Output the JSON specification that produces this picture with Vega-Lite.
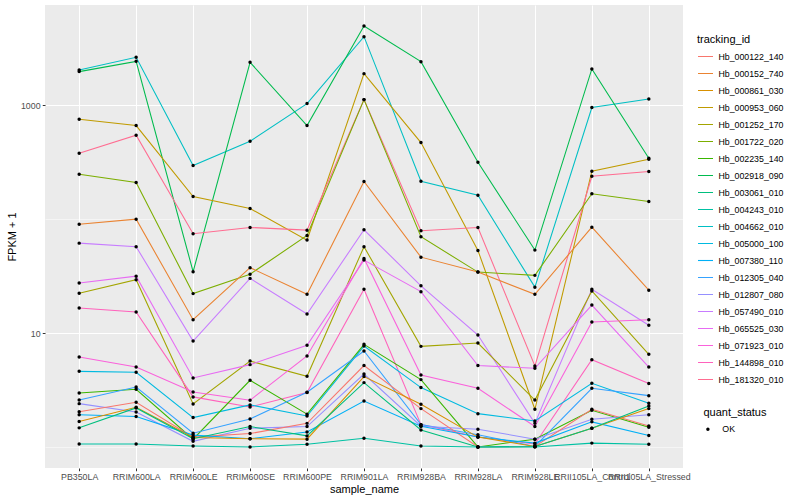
{
  "$schema": "https://vega.github.io/schema/vega-lite/v6.json",
  "width": 638,
  "height": 463,
  "autosize": {"type": "none"},
  "padding": {"left": 45, "top": 5, "right": 117, "bottom": 32},
  "background": "white",
  "config": {
    "font": "Liberation Sans",
    "view": {"fill": "#EBEBEB", "stroke": null},
    "axis": {
      "domain": false,
      "gridColor": "white",
      "gridWidth": 1.07,
      "tickColor": "#333333",
      "tickSize": 2.75,
      "tickWidth": 1,
      "labelFont": "Liberation Sans",
      "labelFontSize": 8.8,
      "labelColor": "#4D4D4D",
      "labelPadding": 2.2,
      "titleFont": "Liberation Sans",
      "titleFontSize": 11,
      "titleFontWeight": "normal",
      "titleColor": "black"
    },
    "legend": {
      "titleFont": "Liberation Sans",
      "titleFontSize": 11,
      "titleFontWeight": "normal",
      "titleColor": "black",
      "labelFont": "Liberation Sans",
      "labelFontSize": 8.8,
      "labelColor": "black",
      "padding": 0
    }
  },
  "data": {"values": [
    {"tracking_id":"Hb_004662_010","sample_name":"PB350LA","FPKM":2046,"quant_status":"OK"},
    {"tracking_id":"Hb_004662_010","sample_name":"RRIM600LA","FPKM":2637,"quant_status":"OK"},
    {"tracking_id":"Hb_004662_010","sample_name":"RRIM600LE","FPKM":296,"quant_status":"OK"},
    {"tracking_id":"Hb_004662_010","sample_name":"RRIM600SE","FPKM":483,"quant_status":"OK"},
    {"tracking_id":"Hb_004662_010","sample_name":"RRIM600PE","FPKM":1035,"quant_status":"OK"},
    {"tracking_id":"Hb_004662_010","sample_name":"RRIM901LA","FPKM":4006,"quant_status":"OK"},
    {"tracking_id":"Hb_004662_010","sample_name":"RRIM928BA","FPKM":215,"quant_status":"OK"},
    {"tracking_id":"Hb_004662_010","sample_name":"RRIM928LA","FPKM":162,"quant_status":"OK"},
    {"tracking_id":"Hb_004662_010","sample_name":"RRIM928LE","FPKM":25.3,"quant_status":"OK"},
    {"tracking_id":"Hb_004662_010","sample_name":"RRII105LA_Control","FPKM":955,"quant_status":"OK"},
    {"tracking_id":"Hb_004662_010","sample_name":"RRII105LA_Stressed","FPKM":1138,"quant_status":"OK"},

    {"tracking_id":"Hb_002918_090","sample_name":"PB350LA","FPKM":1976,"quant_status":"OK"},
    {"tracking_id":"Hb_002918_090","sample_name":"RRIM600LA","FPKM":2432,"quant_status":"OK"},
    {"tracking_id":"Hb_002918_090","sample_name":"RRIM600LE","FPKM":34.6,"quant_status":"OK"},
    {"tracking_id":"Hb_002918_090","sample_name":"RRIM600SE","FPKM":2384,"quant_status":"OK"},
    {"tracking_id":"Hb_002918_090","sample_name":"RRIM600PE","FPKM":664,"quant_status":"OK"},
    {"tracking_id":"Hb_002918_090","sample_name":"RRIM901LA","FPKM":4970,"quant_status":"OK"},
    {"tracking_id":"Hb_002918_090","sample_name":"RRIM928BA","FPKM":2417,"quant_status":"OK"},
    {"tracking_id":"Hb_002918_090","sample_name":"RRIM928LA","FPKM":316,"quant_status":"OK"},
    {"tracking_id":"Hb_002918_090","sample_name":"RRIM928LE","FPKM":53.5,"quant_status":"OK"},
    {"tracking_id":"Hb_002918_090","sample_name":"RRII105LA_Control","FPKM":2086,"quant_status":"OK"},
    {"tracking_id":"Hb_002918_090","sample_name":"RRII105LA_Stressed","FPKM":343,"quant_status":"OK"},

    {"tracking_id":"Hb_000953_060","sample_name":"PB350LA","FPKM":754,"quant_status":"OK"},
    {"tracking_id":"Hb_000953_060","sample_name":"RRIM600LA","FPKM":664,"quant_status":"OK"},
    {"tracking_id":"Hb_000953_060","sample_name":"RRIM600LE","FPKM":158,"quant_status":"OK"},
    {"tracking_id":"Hb_000953_060","sample_name":"RRIM600SE","FPKM":124,"quant_status":"OK"},
    {"tracking_id":"Hb_000953_060","sample_name":"RRIM600PE","FPKM":65.5,"quant_status":"OK"},
    {"tracking_id":"Hb_000953_060","sample_name":"RRIM901LA","FPKM":1897,"quant_status":"OK"},
    {"tracking_id":"Hb_000953_060","sample_name":"RRIM928BA","FPKM":471,"quant_status":"OK"},
    {"tracking_id":"Hb_000953_060","sample_name":"RRIM928LA","FPKM":53.1,"quant_status":"OK"},
    {"tracking_id":"Hb_000953_060","sample_name":"RRIM928LE","FPKM":2.14,"quant_status":"OK"},
    {"tracking_id":"Hb_000953_060","sample_name":"RRII105LA_Control","FPKM":264,"quant_status":"OK"},
    {"tracking_id":"Hb_000953_060","sample_name":"RRII105LA_Stressed","FPKM":336,"quant_status":"OK"},

    {"tracking_id":"Hb_181320_010","sample_name":"PB350LA","FPKM":379,"quant_status":"OK"},
    {"tracking_id":"Hb_181320_010","sample_name":"RRIM600LA","FPKM":546,"quant_status":"OK"},
    {"tracking_id":"Hb_181320_010","sample_name":"RRIM600LE","FPKM":74.5,"quant_status":"OK"},
    {"tracking_id":"Hb_181320_010","sample_name":"RRIM600SE","FPKM":84.6,"quant_status":"OK"},
    {"tracking_id":"Hb_181320_010","sample_name":"RRIM600PE","FPKM":80.1,"quant_status":"OK"},
    {"tracking_id":"Hb_181320_010","sample_name":"RRIM901LA","FPKM":1122,"quant_status":"OK"},
    {"tracking_id":"Hb_181320_010","sample_name":"RRIM928BA","FPKM":79.1,"quant_status":"OK"},
    {"tracking_id":"Hb_181320_010","sample_name":"RRIM928LA","FPKM":84.6,"quant_status":"OK"},
    {"tracking_id":"Hb_181320_010","sample_name":"RRIM928LE","FPKM":5.14,"quant_status":"OK"},
    {"tracking_id":"Hb_181320_010","sample_name":"RRII105LA_Control","FPKM":238,"quant_status":"OK"},
    {"tracking_id":"Hb_181320_010","sample_name":"RRII105LA_Stressed","FPKM":262,"quant_status":"OK"},

    {"tracking_id":"Hb_001722_020","sample_name":"PB350LA","FPKM":248,"quant_status":"OK"},
    {"tracking_id":"Hb_001722_020","sample_name":"RRIM600LA","FPKM":210,"quant_status":"OK"},
    {"tracking_id":"Hb_001722_020","sample_name":"RRIM600LE","FPKM":22.2,"quant_status":"OK"},
    {"tracking_id":"Hb_001722_020","sample_name":"RRIM600SE","FPKM":32.9,"quant_status":"OK"},
    {"tracking_id":"Hb_001722_020","sample_name":"RRIM600PE","FPKM":71.9,"quant_status":"OK"},
    {"tracking_id":"Hb_001722_020","sample_name":"RRIM901LA","FPKM":1122,"quant_status":"OK"},
    {"tracking_id":"Hb_001722_020","sample_name":"RRIM928BA","FPKM":70.1,"quant_status":"OK"},
    {"tracking_id":"Hb_001722_020","sample_name":"RRIM928LA","FPKM":34.3,"quant_status":"OK"},
    {"tracking_id":"Hb_001722_020","sample_name":"RRIM928LE","FPKM":32.1,"quant_status":"OK"},
    {"tracking_id":"Hb_001722_020","sample_name":"RRII105LA_Control","FPKM":167,"quant_status":"OK"},
    {"tracking_id":"Hb_001722_020","sample_name":"RRII105LA_Stressed","FPKM":143,"quant_status":"OK"},

    {"tracking_id":"Hb_000152_740","sample_name":"PB350LA","FPKM":90.4,"quant_status":"OK"},
    {"tracking_id":"Hb_000152_740","sample_name":"RRIM600LA","FPKM":100,"quant_status":"OK"},
    {"tracking_id":"Hb_000152_740","sample_name":"RRIM600LE","FPKM":13.1,"quant_status":"OK"},
    {"tracking_id":"Hb_000152_740","sample_name":"RRIM600SE","FPKM":37.5,"quant_status":"OK"},
    {"tracking_id":"Hb_000152_740","sample_name":"RRIM600PE","FPKM":21.9,"quant_status":"OK"},
    {"tracking_id":"Hb_000152_740","sample_name":"RRIM901LA","FPKM":214,"quant_status":"OK"},
    {"tracking_id":"Hb_000152_740","sample_name":"RRIM928BA","FPKM":46.4,"quant_status":"OK"},
    {"tracking_id":"Hb_000152_740","sample_name":"RRIM928LA","FPKM":34.3,"quant_status":"OK"},
    {"tracking_id":"Hb_000152_740","sample_name":"RRIM928LE","FPKM":21.9,"quant_status":"OK"},
    {"tracking_id":"Hb_000152_740","sample_name":"RRII105LA_Control","FPKM":85.1,"quant_status":"OK"},
    {"tracking_id":"Hb_000152_740","sample_name":"RRII105LA_Stressed","FPKM":23.8,"quant_status":"OK"},

    {"tracking_id":"Hb_057490_010","sample_name":"PB350LA","FPKM":61.6,"quant_status":"OK"},
    {"tracking_id":"Hb_057490_010","sample_name":"RRIM600LA","FPKM":57.3,"quant_status":"OK"},
    {"tracking_id":"Hb_057490_010","sample_name":"RRIM600LE","FPKM":8.51,"quant_status":"OK"},
    {"tracking_id":"Hb_057490_010","sample_name":"RRIM600SE","FPKM":30.2,"quant_status":"OK"},
    {"tracking_id":"Hb_057490_010","sample_name":"RRIM600PE","FPKM":14.7,"quant_status":"OK"},
    {"tracking_id":"Hb_057490_010","sample_name":"RRIM901LA","FPKM":80.7,"quant_status":"OK"},
    {"tracking_id":"Hb_057490_010","sample_name":"RRIM928BA","FPKM":26.0,"quant_status":"OK"},
    {"tracking_id":"Hb_057490_010","sample_name":"RRIM928LA","FPKM":9.6,"quant_status":"OK"},
    {"tracking_id":"Hb_057490_010","sample_name":"RRIM928LE","FPKM":1.61,"quant_status":"OK"},
    {"tracking_id":"Hb_057490_010","sample_name":"RRII105LA_Control","FPKM":24.2,"quant_status":"OK"},
    {"tracking_id":"Hb_057490_010","sample_name":"RRII105LA_Stressed","FPKM":11.7,"quant_status":"OK"},

    {"tracking_id":"Hb_001252_170","sample_name":"PB350LA","FPKM":22.4,"quant_status":"OK"},
    {"tracking_id":"Hb_001252_170","sample_name":"RRIM600LA","FPKM":29.4,"quant_status":"OK"},
    {"tracking_id":"Hb_001252_170","sample_name":"RRIM600LE","FPKM":2.38,"quant_status":"OK"},
    {"tracking_id":"Hb_001252_170","sample_name":"RRIM600SE","FPKM":5.68,"quant_status":"OK"},
    {"tracking_id":"Hb_001252_170","sample_name":"RRIM600PE","FPKM":4.17,"quant_status":"OK"},
    {"tracking_id":"Hb_001252_170","sample_name":"RRIM901LA","FPKM":57.3,"quant_status":"OK"},
    {"tracking_id":"Hb_001252_170","sample_name":"RRIM928BA","FPKM":7.64,"quant_status":"OK"},
    {"tracking_id":"Hb_001252_170","sample_name":"RRIM928LA","FPKM":8.17,"quant_status":"OK"},
    {"tracking_id":"Hb_001252_170","sample_name":"RRIM928LE","FPKM":2.58,"quant_status":"OK"},
    {"tracking_id":"Hb_001252_170","sample_name":"RRII105LA_Control","FPKM":23.4,"quant_status":"OK"},
    {"tracking_id":"Hb_001252_170","sample_name":"RRII105LA_Stressed","FPKM":6.5,"quant_status":"OK"},

    {"tracking_id":"Hb_065525_030","sample_name":"PB350LA","FPKM":27.5,"quant_status":"OK"},
    {"tracking_id":"Hb_065525_030","sample_name":"RRIM600LA","FPKM":31.6,"quant_status":"OK"},
    {"tracking_id":"Hb_065525_030","sample_name":"RRIM600LE","FPKM":4.03,"quant_status":"OK"},
    {"tracking_id":"Hb_065525_030","sample_name":"RRIM600SE","FPKM":5.28,"quant_status":"OK"},
    {"tracking_id":"Hb_065525_030","sample_name":"RRIM600PE","FPKM":7.8,"quant_status":"OK"},
    {"tracking_id":"Hb_065525_030","sample_name":"RRIM901LA","FPKM":43.7,"quant_status":"OK"},
    {"tracking_id":"Hb_065525_030","sample_name":"RRIM928BA","FPKM":23.1,"quant_status":"OK"},
    {"tracking_id":"Hb_065525_030","sample_name":"RRIM928LA","FPKM":5.18,"quant_status":"OK"},
    {"tracking_id":"Hb_065525_030","sample_name":"RRIM928LE","FPKM":4.9,"quant_status":"OK"},
    {"tracking_id":"Hb_065525_030","sample_name":"RRII105LA_Control","FPKM":17.6,"quant_status":"OK"},
    {"tracking_id":"Hb_065525_030","sample_name":"RRII105LA_Stressed","FPKM":5.03,"quant_status":"OK"},

    {"tracking_id":"Hb_144898_010","sample_name":"PB350LA","FPKM":16.6,"quant_status":"OK"},
    {"tracking_id":"Hb_144898_010","sample_name":"RRIM600LA","FPKM":15.3,"quant_status":"OK"},
    {"tracking_id":"Hb_144898_010","sample_name":"RRIM600LE","FPKM":2.75,"quant_status":"OK"},
    {"tracking_id":"Hb_144898_010","sample_name":"RRIM600SE","FPKM":2.24,"quant_status":"OK"},
    {"tracking_id":"Hb_144898_010","sample_name":"RRIM600PE","FPKM":3.0,"quant_status":"OK"},
    {"tracking_id":"Hb_144898_010","sample_name":"RRIM901LA","FPKM":24.2,"quant_status":"OK"},
    {"tracking_id":"Hb_144898_010","sample_name":"RRIM928BA","FPKM":1.57,"quant_status":"OK"},
    {"tracking_id":"Hb_144898_010","sample_name":"RRIM928LA","FPKM":1.22,"quant_status":"OK"},
    {"tracking_id":"Hb_144898_010","sample_name":"RRIM928LE","FPKM":1.06,"quant_status":"OK"},
    {"tracking_id":"Hb_144898_010","sample_name":"RRII105LA_Control","FPKM":5.84,"quant_status":"OK"},
    {"tracking_id":"Hb_144898_010","sample_name":"RRII105LA_Stressed","FPKM":3.6,"quant_status":"OK"},

    {"tracking_id":"Hb_071923_010","sample_name":"PB350LA","FPKM":6.16,"quant_status":"OK"},
    {"tracking_id":"Hb_071923_010","sample_name":"RRIM600LA","FPKM":5.03,"quant_status":"OK"},
    {"tracking_id":"Hb_071923_010","sample_name":"RRIM600LE","FPKM":3.04,"quant_status":"OK"},
    {"tracking_id":"Hb_071923_010","sample_name":"RRIM600SE","FPKM":2.57,"quant_status":"OK"},
    {"tracking_id":"Hb_071923_010","sample_name":"RRIM600PE","FPKM":6.29,"quant_status":"OK"},
    {"tracking_id":"Hb_071923_010","sample_name":"RRIM901LA","FPKM":45.2,"quant_status":"OK"},
    {"tracking_id":"Hb_071923_010","sample_name":"RRIM928BA","FPKM":4.28,"quant_status":"OK"},
    {"tracking_id":"Hb_071923_010","sample_name":"RRIM928LA","FPKM":3.27,"quant_status":"OK"},
    {"tracking_id":"Hb_071923_010","sample_name":"RRIM928LE","FPKM":1.51,"quant_status":"OK"},
    {"tracking_id":"Hb_071923_010","sample_name":"RRII105LA_Control","FPKM":12.5,"quant_status":"OK"},
    {"tracking_id":"Hb_071923_010","sample_name":"RRII105LA_Stressed","FPKM":13.1,"quant_status":"OK"},

    {"tracking_id":"Hb_005000_100","sample_name":"PB350LA","FPKM":4.61,"quant_status":"OK"},
    {"tracking_id":"Hb_005000_100","sample_name":"RRIM600LA","FPKM":4.52,"quant_status":"OK"},
    {"tracking_id":"Hb_005000_100","sample_name":"RRIM600LE","FPKM":1.81,"quant_status":"OK"},
    {"tracking_id":"Hb_005000_100","sample_name":"RRIM600SE","FPKM":2.34,"quant_status":"OK"},
    {"tracking_id":"Hb_005000_100","sample_name":"RRIM600PE","FPKM":1.87,"quant_status":"OK"},
    {"tracking_id":"Hb_005000_100","sample_name":"RRIM901LA","FPKM":7.69,"quant_status":"OK"},
    {"tracking_id":"Hb_005000_100","sample_name":"RRIM928BA","FPKM":3.32,"quant_status":"OK"},
    {"tracking_id":"Hb_005000_100","sample_name":"RRIM928LA","FPKM":1.96,"quant_status":"OK"},
    {"tracking_id":"Hb_005000_100","sample_name":"RRIM928LE","FPKM":1.69,"quant_status":"OK"},
    {"tracking_id":"Hb_005000_100","sample_name":"RRII105LA_Control","FPKM":3.62,"quant_status":"OK"},
    {"tracking_id":"Hb_005000_100","sample_name":"RRII105LA_Stressed","FPKM":2.42,"quant_status":"OK"},

    {"tracking_id":"Hb_002235_140","sample_name":"PB350LA","FPKM":2.98,"quant_status":"OK"},
    {"tracking_id":"Hb_002235_140","sample_name":"RRIM600LA","FPKM":3.21,"quant_status":"OK"},
    {"tracking_id":"Hb_002235_140","sample_name":"RRIM600LE","FPKM":1.17,"quant_status":"OK"},
    {"tracking_id":"Hb_002235_140","sample_name":"RRIM600SE","FPKM":3.85,"quant_status":"OK"},
    {"tracking_id":"Hb_002235_140","sample_name":"RRIM600PE","FPKM":1.94,"quant_status":"OK"},
    {"tracking_id":"Hb_002235_140","sample_name":"RRIM901LA","FPKM":7.96,"quant_status":"OK"},
    {"tracking_id":"Hb_002235_140","sample_name":"RRIM928BA","FPKM":3.9,"quant_status":"OK"},
    {"tracking_id":"Hb_002235_140","sample_name":"RRIM928LA","FPKM":1.0,"quant_status":"OK"},
    {"tracking_id":"Hb_002235_140","sample_name":"RRIM928LE","FPKM":1.17,"quant_status":"OK"},
    {"tracking_id":"Hb_002235_140","sample_name":"RRII105LA_Control","FPKM":2.1,"quant_status":"OK"},
    {"tracking_id":"Hb_002235_140","sample_name":"RRII105LA_Stressed","FPKM":1.49,"quant_status":"OK"},

    {"tracking_id":"Hb_012305_040","sample_name":"PB350LA","FPKM":2.58,"quant_status":"OK"},
    {"tracking_id":"Hb_012305_040","sample_name":"RRIM600LA","FPKM":3.36,"quant_status":"OK"},
    {"tracking_id":"Hb_012305_040","sample_name":"RRIM600LE","FPKM":1.32,"quant_status":"OK"},
    {"tracking_id":"Hb_012305_040","sample_name":"RRIM600SE","FPKM":1.76,"quant_status":"OK"},
    {"tracking_id":"Hb_012305_040","sample_name":"RRIM600PE","FPKM":3.02,"quant_status":"OK"},
    {"tracking_id":"Hb_012305_040","sample_name":"RRIM901LA","FPKM":6.95,"quant_status":"OK"},
    {"tracking_id":"Hb_012305_040","sample_name":"RRIM928BA","FPKM":1.57,"quant_status":"OK"},
    {"tracking_id":"Hb_012305_040","sample_name":"RRIM928LA","FPKM":1.28,"quant_status":"OK"},
    {"tracking_id":"Hb_012305_040","sample_name":"RRIM928LE","FPKM":1.01,"quant_status":"OK"},
    {"tracking_id":"Hb_012305_040","sample_name":"RRII105LA_Control","FPKM":3.27,"quant_status":"OK"},
    {"tracking_id":"Hb_012305_040","sample_name":"RRII105LA_Stressed","FPKM":2.82,"quant_status":"OK"},

    {"tracking_id":"Hb_012807_080","sample_name":"PB350LA","FPKM":2.4,"quant_status":"OK"},
    {"tracking_id":"Hb_012807_080","sample_name":"RRIM600LA","FPKM":2.03,"quant_status":"OK"},
    {"tracking_id":"Hb_012807_080","sample_name":"RRIM600LE","FPKM":1.12,"quant_status":"OK"},
    {"tracking_id":"Hb_012807_080","sample_name":"RRIM600SE","FPKM":1.46,"quant_status":"OK"},
    {"tracking_id":"Hb_012807_080","sample_name":"RRIM600PE","FPKM":1.51,"quant_status":"OK"},
    {"tracking_id":"Hb_012807_080","sample_name":"RRIM901LA","FPKM":4.37,"quant_status":"OK"},
    {"tracking_id":"Hb_012807_080","sample_name":"RRIM928BA","FPKM":1.52,"quant_status":"OK"},
    {"tracking_id":"Hb_012807_080","sample_name":"RRIM928LA","FPKM":1.43,"quant_status":"OK"},
    {"tracking_id":"Hb_012807_080","sample_name":"RRIM928LE","FPKM":1.17,"quant_status":"OK"},
    {"tracking_id":"Hb_012807_080","sample_name":"RRII105LA_Control","FPKM":1.75,"quant_status":"OK"},
    {"tracking_id":"Hb_012807_080","sample_name":"RRII105LA_Stressed","FPKM":1.92,"quant_status":"OK"},

    {"tracking_id":"Hb_000122_140","sample_name":"PB350LA","FPKM":2.04,"quant_status":"OK"},
    {"tracking_id":"Hb_000122_140","sample_name":"RRIM600LA","FPKM":2.47,"quant_status":"OK"},
    {"tracking_id":"Hb_000122_140","sample_name":"RRIM600LE","FPKM":1.22,"quant_status":"OK"},
    {"tracking_id":"Hb_000122_140","sample_name":"RRIM600SE","FPKM":1.31,"quant_status":"OK"},
    {"tracking_id":"Hb_000122_140","sample_name":"RRIM600PE","FPKM":1.61,"quant_status":"OK"},
    {"tracking_id":"Hb_000122_140","sample_name":"RRIM901LA","FPKM":5.18,"quant_status":"OK"},
    {"tracking_id":"Hb_000122_140","sample_name":"RRIM928BA","FPKM":2.17,"quant_status":"OK"},
    {"tracking_id":"Hb_000122_140","sample_name":"RRIM928LA","FPKM":1.0,"quant_status":"OK"},
    {"tracking_id":"Hb_000122_140","sample_name":"RRIM928LE","FPKM":1.01,"quant_status":"OK"},
    {"tracking_id":"Hb_000122_140","sample_name":"RRII105LA_Control","FPKM":2.14,"quant_status":"OK"},
    {"tracking_id":"Hb_000122_140","sample_name":"RRII105LA_Stressed","FPKM":1.53,"quant_status":"OK"},

    {"tracking_id":"Hb_007380_110","sample_name":"PB350LA","FPKM":1.92,"quant_status":"OK"},
    {"tracking_id":"Hb_007380_110","sample_name":"RRIM600LA","FPKM":1.85,"quant_status":"OK"},
    {"tracking_id":"Hb_007380_110","sample_name":"RRIM600LE","FPKM":1.27,"quant_status":"OK"},
    {"tracking_id":"Hb_007380_110","sample_name":"RRIM600SE","FPKM":1.18,"quant_status":"OK"},
    {"tracking_id":"Hb_007380_110","sample_name":"RRIM600PE","FPKM":1.35,"quant_status":"OK"},
    {"tracking_id":"Hb_007380_110","sample_name":"RRIM901LA","FPKM":2.53,"quant_status":"OK"},
    {"tracking_id":"Hb_007380_110","sample_name":"RRIM928BA","FPKM":1.52,"quant_status":"OK"},
    {"tracking_id":"Hb_007380_110","sample_name":"RRIM928LA","FPKM":1.22,"quant_status":"OK"},
    {"tracking_id":"Hb_007380_110","sample_name":"RRIM928LE","FPKM":1.08,"quant_status":"OK"},
    {"tracking_id":"Hb_007380_110","sample_name":"RRII105LA_Control","FPKM":1.66,"quant_status":"OK"},
    {"tracking_id":"Hb_007380_110","sample_name":"RRII105LA_Stressed","FPKM":1.26,"quant_status":"OK"},

    {"tracking_id":"Hb_000861_030","sample_name":"PB350LA","FPKM":1.67,"quant_status":"OK"},
    {"tracking_id":"Hb_000861_030","sample_name":"RRIM600LA","FPKM":2.23,"quant_status":"OK"},
    {"tracking_id":"Hb_000861_030","sample_name":"RRIM600LE","FPKM":1.21,"quant_status":"OK"},
    {"tracking_id":"Hb_000861_030","sample_name":"RRIM600SE","FPKM":1.18,"quant_status":"OK"},
    {"tracking_id":"Hb_000861_030","sample_name":"RRIM600PE","FPKM":1.17,"quant_status":"OK"},
    {"tracking_id":"Hb_000861_030","sample_name":"RRIM901LA","FPKM":4.15,"quant_status":"OK"},
    {"tracking_id":"Hb_000861_030","sample_name":"RRIM928BA","FPKM":2.37,"quant_status":"OK"},
    {"tracking_id":"Hb_000861_030","sample_name":"RRIM928LA","FPKM":1.22,"quant_status":"OK"},
    {"tracking_id":"Hb_000861_030","sample_name":"RRIM928LE","FPKM":1.01,"quant_status":"OK"},
    {"tracking_id":"Hb_000861_030","sample_name":"RRII105LA_Control","FPKM":1.46,"quant_status":"OK"},
    {"tracking_id":"Hb_000861_030","sample_name":"RRII105LA_Stressed","FPKM":2.17,"quant_status":"OK"},

    {"tracking_id":"Hb_003061_010","sample_name":"PB350LA","FPKM":1.47,"quant_status":"OK"},
    {"tracking_id":"Hb_003061_010","sample_name":"RRIM600LA","FPKM":2.2,"quant_status":"OK"},
    {"tracking_id":"Hb_003061_010","sample_name":"RRIM600LE","FPKM":1.18,"quant_status":"OK"},
    {"tracking_id":"Hb_003061_010","sample_name":"RRIM600SE","FPKM":1.51,"quant_status":"OK"},
    {"tracking_id":"Hb_003061_010","sample_name":"RRIM600PE","FPKM":1.25,"quant_status":"OK"},
    {"tracking_id":"Hb_003061_010","sample_name":"RRIM901LA","FPKM":3.67,"quant_status":"OK"},
    {"tracking_id":"Hb_003061_010","sample_name":"RRIM928BA","FPKM":1.41,"quant_status":"OK"},
    {"tracking_id":"Hb_003061_010","sample_name":"RRIM928LA","FPKM":1.0,"quant_status":"OK"},
    {"tracking_id":"Hb_003061_010","sample_name":"RRIM928LE","FPKM":1.01,"quant_status":"OK"},
    {"tracking_id":"Hb_003061_010","sample_name":"RRII105LA_Control","FPKM":1.46,"quant_status":"OK"},
    {"tracking_id":"Hb_003061_010","sample_name":"RRII105LA_Stressed","FPKM":2.29,"quant_status":"OK"},

    {"tracking_id":"Hb_004243_010","sample_name":"PB350LA","FPKM":1.06,"quant_status":"OK"},
    {"tracking_id":"Hb_004243_010","sample_name":"RRIM600LA","FPKM":1.06,"quant_status":"OK"},
    {"tracking_id":"Hb_004243_010","sample_name":"RRIM600LE","FPKM":1.02,"quant_status":"OK"},
    {"tracking_id":"Hb_004243_010","sample_name":"RRIM600SE","FPKM":1.0,"quant_status":"OK"},
    {"tracking_id":"Hb_004243_010","sample_name":"RRIM600PE","FPKM":1.055,"quant_status":"OK"},
    {"tracking_id":"Hb_004243_010","sample_name":"RRIM901LA","FPKM":1.19,"quant_status":"OK"},
    {"tracking_id":"Hb_004243_010","sample_name":"RRIM928BA","FPKM":1.02,"quant_status":"OK"},
    {"tracking_id":"Hb_004243_010","sample_name":"RRIM928LA","FPKM":1.0,"quant_status":"OK"},
    {"tracking_id":"Hb_004243_010","sample_name":"RRIM928LE","FPKM":1.0,"quant_status":"OK"},
    {"tracking_id":"Hb_004243_010","sample_name":"RRII105LA_Control","FPKM":1.08,"quant_status":"OK"},
    {"tracking_id":"Hb_004243_010","sample_name":"RRII105LA_Stressed","FPKM":1.055,"quant_status":"OK"}
  ]},
  "encoding": {
    "x": {
      "field": "sample_name",
      "type": "nominal",
      "sort": ["PB350LA","RRIM600LA","RRIM600LE","RRIM600SE","RRIM600PE","RRIM901LA","RRIM928BA","RRIM928LA","RRIM928LE","RRII105LA_Control","RRII105LA_Stressed"],
      "scale": {"type": "point", "padding": 0.6},
      "axis": {"title": "sample_name", "labelAngle": 0, "labelOverlap": false, "labelBound": false, "grid": true, "labelPadding": 2, "titlePadding": 2}
    },
    "y": {
      "field": "FPKM",
      "type": "quantitative",
      "scale": {"type": "log", "domain": [0.653, 7600], "nice": false, "zero": false},
      "axis": {
        "title": "FPKM + 1",
        "values": [1, 10, 100, 1000],
        "format": "d",
        "labelExpr": "(datum.value == 10 || datum.value == 1000) ? datum.label : ''",
        "gridWidth": {"condition": {"test": "datum.value == 10 || datum.value == 1000", "value": 1.07}, "value": 0.53},
        "tickOpacity": {"condition": {"test": "datum.value == 10 || datum.value == 1000", "value": 1}, "value": 0},
        "titlePadding": 3
      }
    }
  },
  "layer": [
    {
      "mark": {"type": "line", "strokeWidth": 1.07},
      "encoding": {
        "color": {
          "field": "tracking_id",
          "type": "nominal",
          "scale": {
            "domain": ["Hb_000122_140","Hb_000152_740","Hb_000861_030","Hb_000953_060","Hb_001252_170","Hb_001722_020","Hb_002235_140","Hb_002918_090","Hb_003061_010","Hb_004243_010","Hb_004662_010","Hb_005000_100","Hb_007380_110","Hb_012305_040","Hb_012807_080","Hb_057490_010","Hb_065525_030","Hb_071923_010","Hb_144898_010","Hb_181320_010"],
            "range": ["#F8766D","#EA8331","#D89000","#C09B00","#A3A500","#7CAE00","#39B600","#00BB4E","#00BF7D","#00C1A3","#00BFC4","#00BAE0","#00B0F6","#35A2FF","#9590FF","#C77CFF","#E76BF3","#FA62DB","#FF62BC","#FF6C91"]
          },
          "legend": {
            "title": "tracking_id",
            "orient": "none",
            "legendX": 652,
            "legendY": 29,
            "symbolType": "stroke",
            "symbolSize": 225,
            "symbolStrokeWidth": 1.1,
            "clipHeight": 17,
            "rowPadding": 0,
            "labelOffset": 4.4,
            "titlePadding": 3
          }
        }
      }
    },
    {
      "mark": {"type": "point", "filled": true, "color": "black", "size": 12, "opacity": 1},
      "encoding": {
        "shape": {
          "field": "quant_status",
          "type": "nominal",
          "scale": {"range": ["circle"]},
          "legend": {
            "title": "quant_status",
            "orient": "none",
            "legendX": 658.5,
            "legendY": 402,
            "symbolSize": 12,
            "symbolFillColor": "black",
            "symbolStrokeColor": "black",
            "clipHeight": 17.3,
            "labelOffset": 10,
            "titlePadding": 2.5
          }
        }
      }
    }
  ]
}
